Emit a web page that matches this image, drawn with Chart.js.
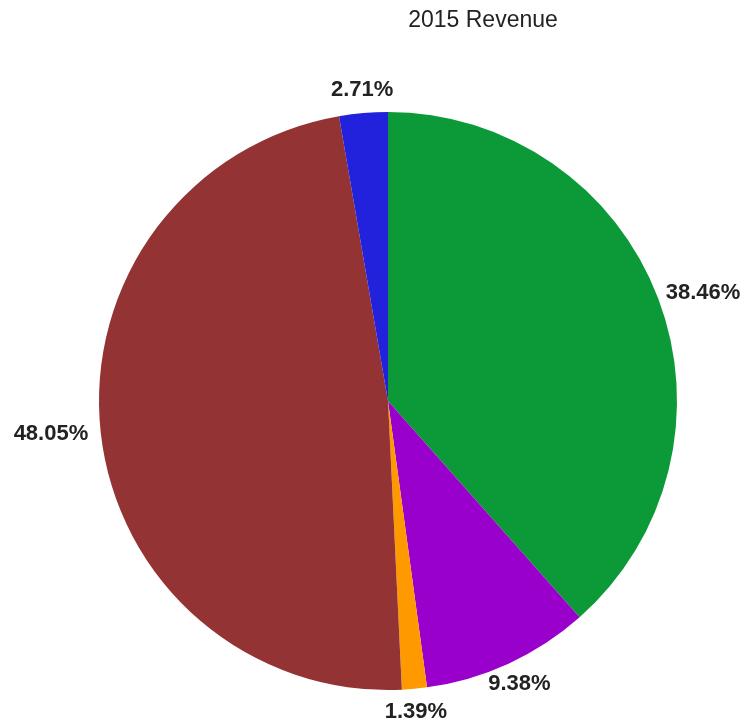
<!DOCTYPE html>
<html>
<head>
<meta charset="utf-8">
<script src="https://cdn.jsdelivr.net/npm/chart.js@4/dist/chart.umd.min.js"></script>
<style>
  html, body { margin: 0; padding: 0; background: #fff; }
  #wrap { width: 749px; height: 723px; }
</style>
</head>
<body>
<div id="wrap"><canvas id="pie"></canvas></div>
<script>
const titleText = '2015 Revenue';
const categories = ['Green', 'Purple', 'Orange', 'Brown', 'Blue'];
const shares = [38.46, 9.38, 1.39, 48.05, 2.71];
const sliceColors = ['#0b9a37', '#9900cc', '#ff9900', '#933333', '#2222dd'];

// labels outside each slice, pushed out by half the text box
const outsideLabels = {
  id: 'outsideLabels',
  afterDatasetsDraw(chart) {
    const ctx = chart.ctx;
    const meta = chart.getDatasetMeta(0);
    ctx.save();
    ctx.font = 'bold 22px "Liberation Sans", Arial, sans-serif';
    ctx.fillStyle = '#222';
    ctx.textAlign = 'center';
    ctx.textBaseline = 'middle';
    meta.data.forEach((arc, i) => {
      const p = arc.getProps(['x', 'y', 'startAngle', 'endAngle', 'outerRadius'], true);
      const mid = (p.startAngle + p.endAngle) / 2;
      const text = shares[i].toFixed(2) + '%';
      const w = ctx.measureText(text).width;
      const r = p.outerRadius + 13;
      const cx = p.x + Math.cos(mid) * (r + w / 2 * Math.abs(Math.cos(mid)));
      const cy = p.y + Math.sin(mid) * (r + 10 * Math.abs(Math.sin(mid)));
      ctx.fillText(text, cx, cy);
    });
    ctx.restore();
  }
};

const topTitle = {
  id: 'topTitle',
  afterDraw(chart) {
    const ctx = chart.ctx;
    ctx.save();
    ctx.font = '23px "Liberation Sans", Arial, sans-serif';
    ctx.fillStyle = '#222';
    ctx.textAlign = 'center';
    ctx.textBaseline = 'middle';
    ctx.fillText(titleText, 483, 21);
    ctx.restore();
  }
};

new Chart(document.getElementById('pie'), {
  type: 'pie',
  data: {
    labels: categories,
    datasets: [{
      data: shares,
      backgroundColor: sliceColors,
      borderWidth: 0
    }]
  },
  options: {
    responsive: true,
    maintainAspectRatio: false,
    animation: false,
    layout: { padding: { left: 99, right: 72, top: 112, bottom: 33 } },
    plugins: {
      legend: { display: false },
      tooltip: { enabled: false }
    }
  },
  plugins: [outsideLabels, topTitle]
});
</script>
</body>
</html>
